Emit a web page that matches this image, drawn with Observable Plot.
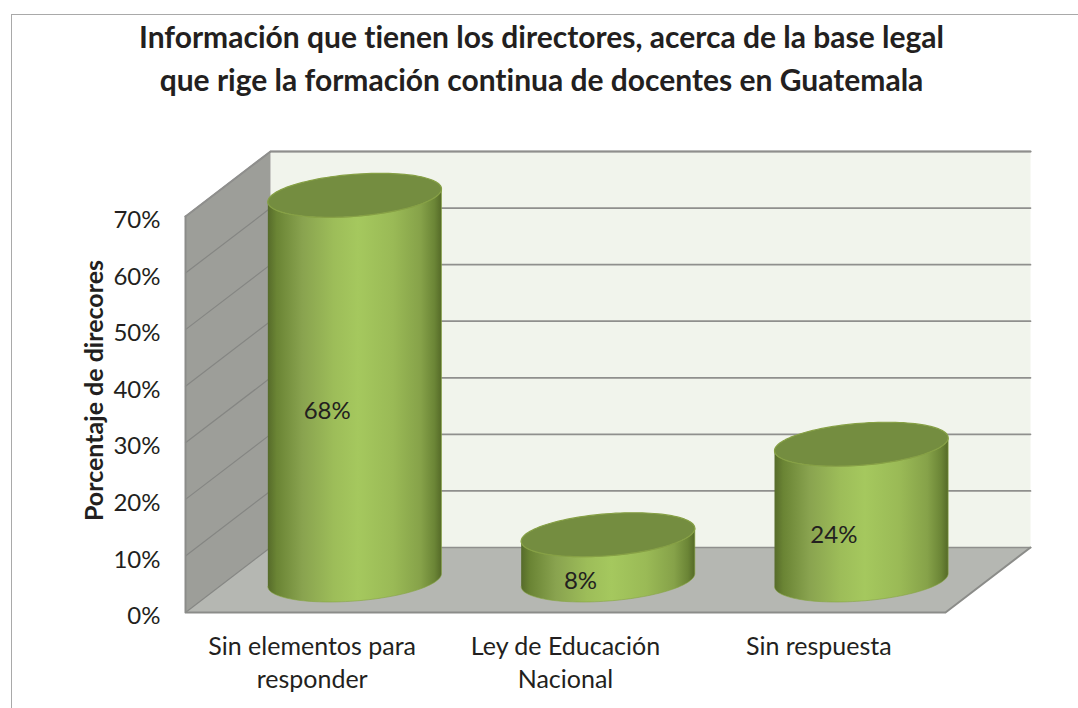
<!DOCTYPE html>
<html lang="es">
<head>
<meta charset="utf-8">
<script src="https://cdn.jsdelivr.net/npm/d3@7"></script>
<script src="https://cdn.jsdelivr.net/npm/@observablehq/plot@0.6"></script>
<style>
  html, body { margin: 0; padding: 0; background: #fff; }
  #page { position: relative; width: 1078px; height: 708px; overflow: hidden; font-family: Lato, sans-serif; font-variant-ligatures: none; }
  #frame { position: absolute; left: 11px; top: 14px; width: 1080px; height: 710px; border: 1.5px solid #a9a9a9; box-sizing: border-box; }
  #title { position: absolute; left: 0; top: 15px; width: 1083px; text-align: center; font-weight: 700; font-size: 30px; line-height: 43px; color: #231f20; }
  #chart { position: absolute; left: 0; top: 112px; }
  svg { display: block; font-variant-ligatures: none; }
</style>
</head>
<body>
<div id="page">
  <div id="frame"></div>
  <div id="title">Información que tienen los directores, acerca de la base legal<br>que rige la formación continua de docentes en Guatemala</div>
  <div id="chart"></div>
</div>
<script>
const categories = ["Sin elementos para\nresponder", "Ley de Educación\nNacional", "Sin respuesta"];
const values = [68, 8, 24];
const valueTicks = [0, 10, 20, 30, 40, 50, 60, 70];
const yTitle = "Porcentaje de direcores";

const width = 1078, height = 596;
const marginLeft = 185, marginRight = 133, marginTop = 104, marginBottom = 96;
const yMax = 70;

// Oblique projection of the chart's depth axis, expressed in scale units.
const unitX = (width - marginLeft - marginRight) / categories.length;
const unitY = (height - marginTop - marginBottom) / yMax;
const depthX = 85 / unitX, depthY = 65 / unitY;

const poly = (...pts) => pts.map(([x, y]) => ({x, y}));
const n = categories.length;
const backWall = poly([depthX, depthY], [n + depthX, depthY], [n + depthX, yMax + depthY], [depthX, yMax + depthY]);
const sideWall = poly([0, 0], [depthX, depthY], [depthX, yMax + depthY], [0, yMax]);
const floor = poly([0, 0], [n, 0], [n + depthX, depthY], [depthX, depthY]);

const gridBack = valueTicks.flatMap(v => poly([depthX, v + depthY], [n + depthX, v + depthY]).map(p => ({...p, v})));
const gridSide = valueTicks.flatMap(v => poly([0, v], [depthX, v + depthY]).map(p => ({...p, v})));

// Cylinders: sheared ellipses lying in the floor plane, half way back.
const a = 83 / unitX, bx = 25.5 / unitX, by = 22 / unitY;
const t0 = Math.atan2(bx, a);
const arc = (cx, cy, from, to, steps = 60) =>
  d3.range(steps + 1).map(k => {
    const t = from + (to - from) * k / steps;
    return {x: cx + a * Math.cos(t) + bx * Math.sin(t), y: cy + by * Math.sin(t)};
  });
const bodies = values.flatMap((v, i) => {
  const cx = i + 0.5 + depthX / 2, b = depthY / 2;
  return [...arc(cx, b, t0 + Math.PI, t0 + 2 * Math.PI), ...arc(cx, v + b, t0 + 2 * Math.PI, t0 + Math.PI)]
    .map(p => ({...p, i}));
});
const tops = values.flatMap((v, i) =>
  arc(i + 0.5 + depthX / 2, v + depthY / 2, 0, 2 * Math.PI, 120).map(p => ({...p, i})));
const shape = (data, fill, extra = {}) => Plot.line(data, {x: "x", y: "y", fill, stroke: "none", curve: "linear", ...extra});

const plot = Plot.plot({
  width, height, marginLeft, marginRight, marginTop, marginBottom,
  style: {fontFamily: "Lato, sans-serif", color: "#231f20", background: "transparent", overflow: "visible"},
  x: {domain: [0, n]},
  y: {domain: [0, yMax]},
  marks: [
    shape(backWall, "#f1f4ec"),
    shape(sideWall, "#9d9e99"),
    shape(floor, "#b5b7b2"),
    Plot.line(gridBack, {x: "x", y: "y", z: "v", stroke: "#8f8f8d", strokeWidth: 1.7}),
    Plot.line(gridSide, {x: "x", y: "y", z: "v", stroke: "#858683", strokeWidth: 1.2}),
    Plot.line(poly([0, yMax], [0, 0], [n, 0], [n + depthX, depthY]), {x: "x", y: "y", stroke: "#8b8c89", strokeWidth: 2}),
    Plot.line(poly([0, yMax], [depthX, yMax + depthY], [n + depthX, yMax + depthY]), {x: "x", y: "y", stroke: "#8f8f8d", strokeWidth: 2}),
    shape(bodies, "url(#cyl)", {z: "i", stroke: "#86a443", strokeWidth: 0.6}),
    shape(tops, "#748d40", {z: "i", stroke: "#86a045", strokeWidth: 1.2}),
    Plot.text(values, {
      x: (d, i) => i + 0.5, y: d => d / 2, text: d => `${d}%`,
      dx: 15, dy: -9, fontSize: 24, fill: "#231f20"
    }),
    Plot.axisY({
      ticks: valueTicks, tickFormat: d => `${d}%`, tickSize: 0, tickPadding: 25,
      fontSize: 24, label: null, dy: 4, fill: "#231f20"
    }),
    Plot.axisX({
      ticks: categories.map((_, i) => i + 0.5), tickFormat: d => categories[Math.floor(d)],
      tickSize: 0, tickPadding: 19, lineHeight: 1.32, textAnchor: "middle",
      lineAnchor: "top", fontSize: 25, label: null, fill: "#231f20"
    }),
    Plot.text([yTitle], {
      frameAnchor: "left", textAnchor: "middle", dx: -91, dy: -24, rotate: -90,
      fontSize: 25, fontWeight: 700, fill: "#231f20"
    })
  ]
});

const defs = d3.select(plot).insert("defs", ":first-child");
const g = defs.append("linearGradient").attr("id", "cyl").attr("x1", 0).attr("x2", 1).attr("y1", 0).attr("y2", 0);
[[0, "#566b2a"], [0.05, "#6a8434"], [0.2, "#89a34f"], [0.38, "#9dbd59"], [0.52, "#a5c85e"],
 [0.72, "#9aba56"], [0.88, "#86a249"], [0.96, "#6b8536"], [1, "#556a28"]]
  .forEach(([o, c]) => g.append("stop").attr("offset", o).attr("stop-color", c));

document.getElementById("chart").append(plot);
</script>
</body>
</html>
